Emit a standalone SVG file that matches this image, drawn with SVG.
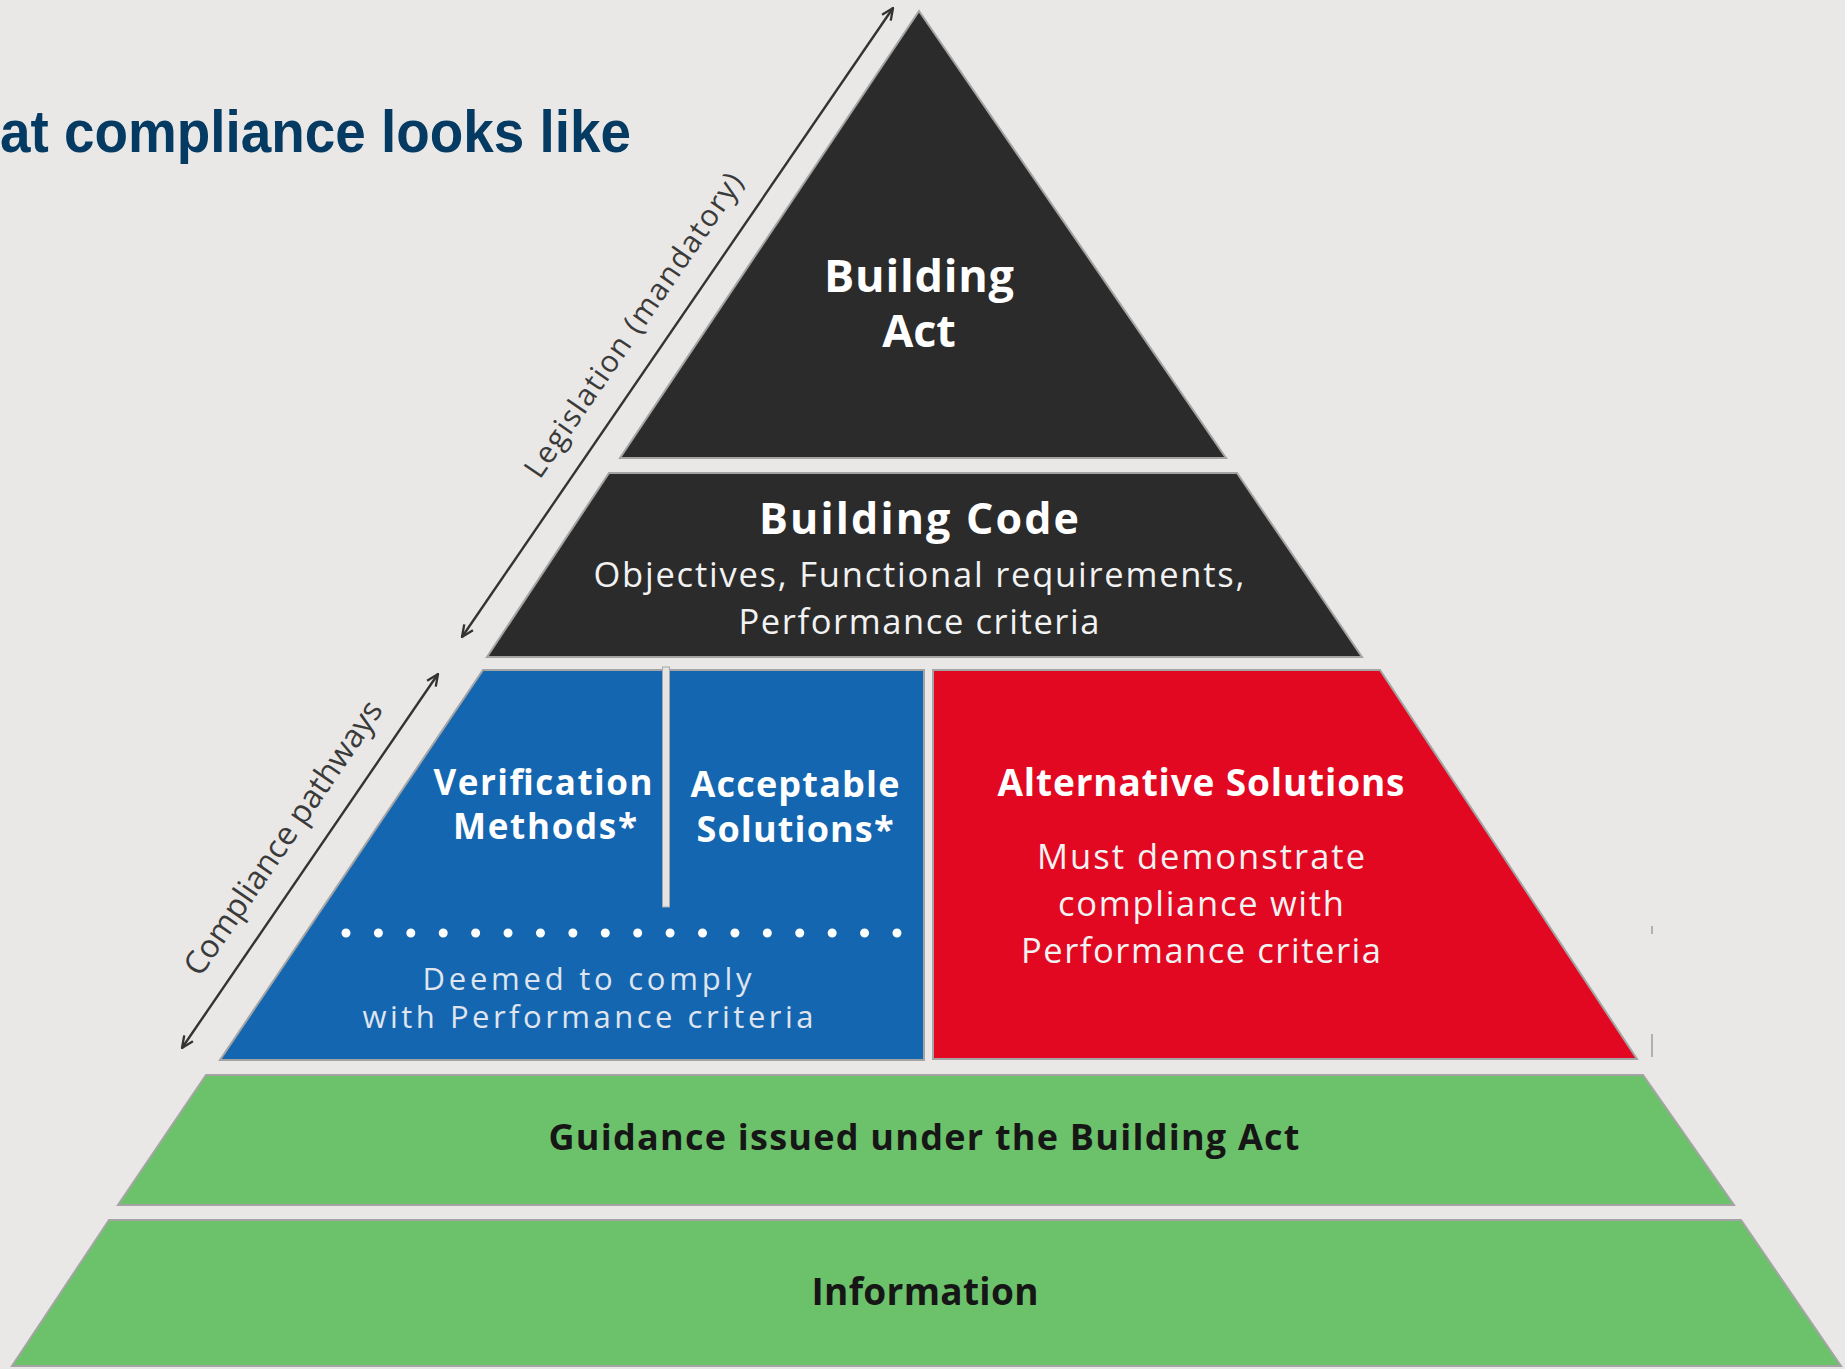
<svg xmlns="http://www.w3.org/2000/svg" width="1845" height="1369" viewBox="0 0 1845 1369">
  <style>
    .tier { stroke: #a4a4a4; stroke-width: 2; stroke-linejoin: miter; }
    .dark { fill: #2b2b2b; }
    .blue { fill: #1466b0; }
    .red { fill: #e20822; }
    .green { fill: #6cc26a; }
    .t { font-family: "Open Sans", "Noto Sans", sans-serif; text-anchor: middle; }
    .b { font-weight: 700; fill: #ffffff; }
    .r { font-weight: 400; fill: #f2f2f2; }
    .d { font-weight: 400; fill: #dfe4ee; }
    .g { font-weight: 700; fill: #161616; }
    .side { font-family: "Open Sans", "Noto Sans", sans-serif; fill: #3a3a3a; text-anchor: middle; }
    .arrow { stroke: #333333; stroke-width: 2.4; fill: none; marker-start: url(#ah); marker-end: url(#ah); }
  </style>
  <defs>
    <marker id="ah" viewBox="0 0 12 12" refX="11" refY="6" markerWidth="14" markerHeight="14" markerUnits="userSpaceOnUse" orient="auto-start-reverse">
      <path d="M1,1.5 L11,6 L1,10.5" fill="none" stroke="#333333" stroke-width="2"/>
    </marker>
  </defs>

  <rect x="0" y="0" width="1845" height="1369" fill="#e9e8e6"/>

  <g id="title">
    <text x="0" y="152" font-family="Liberation Sans, Arial, sans-serif" font-weight="700" font-size="60" fill="#053a62" textLength="631" lengthAdjust="spacingAndGlyphs">at compliance looks like</text>
  </g>

  <g id="building-act">
    <polygon class="tier dark" points="919,11 1226,458 620,458"/>
    <text class="t b" x="919" y="292" font-size="45" textLength="190">Building</text>
    <text class="t b" x="919" y="347" font-size="45">Act</text>
  </g>

  <g id="building-code">
    <polygon class="tier dark" points="609,473 1237,473 1362,657 487,657"/>
    <text class="t b" x="919" y="534" font-size="43" textLength="320">Building Code</text>
    <text class="t r" x="919" y="587" font-size="34.5" textLength="651">Objectives, Functional requirements,</text>
    <text class="t r" x="919" y="634" font-size="34.5" textLength="361">Performance criteria</text>
  </g>

  <g id="deemed-to-comply">
    <polygon class="tier blue" points="483,670 924,670 924,1060 220,1060"/>
    <rect x="662.5" y="667" width="7" height="240" fill="#e4e4e4" stroke="#a8a8a8" stroke-width="1"/>
    <line x1="346" y1="933" x2="897.5" y2="933" stroke="#ffffff" stroke-width="9" stroke-linecap="round" stroke-dasharray="0 32.41"/>
    <text class="t d" x="587" y="990" font-size="31" textLength="329">Deemed to comply</text>
    <text class="t d" x="588" y="1028" font-size="31" textLength="451">with Performance criteria</text>
  </g>

  <g id="verification-methods">
    <text class="t b" x="543" y="795" font-size="35" textLength="219">Verification</text>
    <text class="t b" x="545" y="839" font-size="35" textLength="184">Methods*</text>
  </g>

  <g id="acceptable-solutions">
    <text class="t b" x="795" y="797" font-size="36" textLength="209">Acceptable</text>
    <text class="t b" x="795" y="842" font-size="36" textLength="197">Solutions*</text>
  </g>

  <g id="alternative-solutions">
    <polygon class="tier red" points="933,670 1380,670 1637,1059 933,1059"/>
    <text class="t b" x="1201" y="796" font-size="37" textLength="407">Alternative Solutions</text>
    <text class="t r" x="1201" y="869" font-size="34.5" textLength="328">Must demonstrate</text>
    <text class="t r" x="1201" y="916" font-size="34.5" textLength="286">compliance with</text>
    <text class="t r" x="1201" y="963" font-size="34.5" textLength="360">Performance criteria</text>
  </g>

  <g id="guidance">
    <polygon class="tier green" points="206,1075 1643,1075 1734,1205 118,1205"/>
    <text class="t g" x="924" y="1150" font-size="36" textLength="751">Guidance issued under the Building Act</text>
  </g>

  <g id="information">
    <polygon class="tier green" points="109,1220 1741,1220 1841,1366 12,1366"/>
    <text class="t g" x="925" y="1305" font-size="37" textLength="227">Information</text>
  </g>

  <g id="marks" stroke="#b0b0b0" stroke-width="2">
    <line x1="1652" y1="926" x2="1652" y2="934"/>
    <line x1="1652" y1="1034" x2="1652" y2="1057"/>
  </g>

  <g id="connectors">
    <line class="arrow" x1="462" y1="637" x2="893" y2="8"/>
    <line class="arrow" x1="182" y1="1048" x2="438" y2="674"/>
    <text class="side" font-size="30" transform="translate(642,331) rotate(-55.6)" textLength="362">Legislation (mandatory)</text>
    <text class="side" font-size="32" transform="translate(292,844) rotate(-55.6)" textLength="325">Compliance pathways</text>
  </g>
</svg>
